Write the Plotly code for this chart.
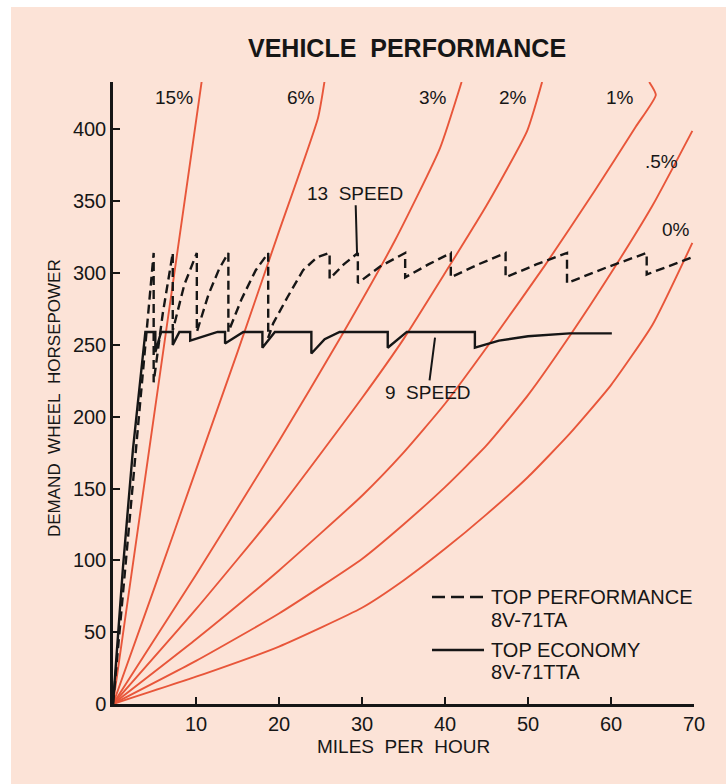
import plotly.graph_objects as go

# ---------------- data ----------------
# grade-resistance curves: demand wheel horsepower vs mph
g15_mph = [0, 5.0, 10.7]
g15_hp = [0, 203, 434]
g6_mph = [0, 5, 10, 15, 20, 24.7, 25.5]
g6_hp = [0, 81, 163, 245, 329, 408, 434]
g3_mph = [0, 10, 20, 27.5, 34, 39.4, 42.0]
g3_hp = [0, 90, 183, 256, 323, 387, 433]
g2_mph = [0, 10, 20, 30, 35, 40, 45, 49.9, 51.7]
g2_hp = [0, 66, 136, 213, 254, 300, 347, 399, 433]
g1_mph = [0, 10, 20, 30, 35, 40, 46, 52, 58, 63, 65.4, 64.6]
g1_hp = [0, 45, 93, 145, 175, 209, 256, 305, 357, 402, 424, 433]
g05_mph = [0, 10, 20, 30, 35, 40, 45, 50, 55, 60, 65, 69.8]
g05_hp = [0, 30, 63, 101, 125, 151, 180, 215, 256, 300, 347, 399]
g0_mph = [0, 10, 20, 30, 35, 40, 45, 50, 55, 60, 65, 69.8]
g0_hp = [0, 19, 40, 67, 86, 108, 132, 158, 188, 222, 264, 321]

grade_labels = ["15%", "6%", "3%", "2%", "1%", ".5%", "0%"]
label_mph = [7.35, 22.7, 38.6, 48.2, 61.1, 66.1, 67.8]
label_hp = [422, 422, 422, 422, 422, 378, 330]

# 13 speed, top performance 8V-71TA (dashed)
perf_mph = [0, 3.0, 4.9, 4.9, 6.0, 7.2, 7.2, 8.6, 10.1, 10.1, 11.5, 12.8, 13.9,
            13.9, 15.5, 17.2, 18.7, 18.7, 19.3, 21.0, 22.9, 24.6, 26.1, 26.1,
            27.8, 29.5, 29.5, 32.3, 35.2, 35.2, 38.0, 40.7, 40.7, 44.0, 47.3,
            47.3, 51.0, 54.7, 54.7, 59.5, 64.3, 64.3, 67.0, 69.8]
perf_hp = [0, 195, 314, 224, 272, 314, 260, 292, 314, 259, 285, 303, 314,
           259, 282, 302, 314, 255, 265, 283, 302, 311, 314, 296,
           306, 314, 293, 305, 314, 297, 306, 314, 297, 306, 314,
           297, 306, 314, 293, 304, 314, 299, 305, 311]

# 9 speed, top economy 8V-71TTA (solid)
econ_mph = [0, 1.2, 2.4, 3.9, 5.1, 5.1, 5.8, 7.2, 7.2, 8.0, 9.3, 9.3, 12.6,
            13.5, 13.5, 15.7, 18.0, 18.0, 19.5, 23.9, 23.9, 25.5, 27.3, 33.1,
            33.1, 35.4, 43.6, 43.6, 46.5, 50.0, 55.0, 60.1]
econ_hp = [0, 95, 177, 259, 259, 245, 259, 259, 250, 259, 259, 253, 259,
           259, 251, 259, 259, 248, 259, 259, 244, 254, 259, 259,
           248, 259, 259, 248, 253, 256, 258, 258]

legend_lines = ["TOP PERFORMANCE", "8V-71TA", "TOP ECONOMY", "8V-71TTA"]

x_ticks = [10, 20, 30, 40, 50, 60, 70]
y_ticks = [0, 50, 100, 150, 200, 250, 300, 350, 400]

# ---------------- styling ----------------
RED = "#E8563A"
INK = "#161616"
BG = "#FCE3D7"
FONT = "Liberation Sans, Arial, Helvetica, sans-serif"

fig = go.Figure()

for mx, hy in [(g15_mph, g15_hp), (g6_mph, g6_hp), (g3_mph, g3_hp),
               (g2_mph, g2_hp), (g1_mph, g1_hp), (g05_mph, g05_hp),
               (g0_mph, g0_hp)]:
    fig.add_trace(go.Scatter(x=mx, y=hy, mode="lines",
                             line=dict(color=RED, width=1.9, shape="spline",
                                       smoothing=0.5),
                             showlegend=False, hoverinfo="skip"))

fig.add_trace(go.Scatter(x=perf_mph, y=perf_hp, mode="lines",
                         name="TOP PERFORMANCE 8V-71TA", showlegend=False,
                         line=dict(color=INK, width=2.4, dash="9px,5px")))
fig.add_trace(go.Scatter(x=econ_mph, y=econ_hp, mode="lines",
                         name="TOP ECONOMY 8V-71TTA", showlegend=False,
                         line=dict(color=INK, width=2.4)))


def px_x(p):
    return (p - 113) / 581.0


def px_y(p):
    return (704 - p) / 622.0


annotations = []
for t, xv, yv in zip(grade_labels, label_mph, label_hp):
    annotations.append(dict(x=xv, y=yv, xref="x", yref="y", text=t,
                            showarrow=False, font=dict(size=19, color=INK)))

annotations.append(dict(x=29.4, y=314, xref="x", yref="y",
                        ax=29.2, ay=355.5, axref="x", ayref="y",
                        text="13\u00a0\u00a0SPEED", showarrow=True, arrowhead=0,
                        arrowwidth=2, arrowcolor=INK,
                        font=dict(size=19, color=INK)))
annotations.append(dict(x=38.8, y=255, xref="x", yref="y",
                        ax=37.95, ay=217, axref="x", ayref="y",
                        text="9\u00a0\u00a0SPEED", showarrow=True, arrowhead=0,
                        arrowwidth=2, arrowcolor=INK,
                        font=dict(size=19, color=INK)))

annotations.append(dict(x=px_x(407), y=px_y(48), xref="paper", yref="paper",
                        xanchor="center", yanchor="middle",
                        text="<b>VEHICLE\u00a0\u00a0PERFORMANCE</b>",
                        showarrow=False, font=dict(size=25, color=INK)))
annotations.append(dict(x=px_x(54), y=px_y(398), xref="paper", yref="paper",
                        xanchor="center", yanchor="middle",
                        text="DEMAND\u00a0\u00a0WHEEL\u00a0\u00a0HORSEPOWER",
                        textangle=-90, showarrow=False,
                        font=dict(size=17, color=INK)))
annotations.append(dict(x=px_x(403), y=px_y(746), xref="paper", yref="paper",
                        xanchor="center", yanchor="middle",
                        text="MILES\u00a0\u00a0PER\u00a0\u00a0HOUR",
                        showarrow=False, font=dict(size=19, color=INK)))

# legend (drawn by hand to match the original key)
for t, ypx in zip(legend_lines, [597, 620, 650, 672]):
    annotations.append(dict(x=px_x(489), y=px_y(ypx), xref="paper",
                            yref="paper", xanchor="left", yanchor="middle",
                            text=t, showarrow=False,
                            font=dict(size=20, color=INK)))

shapes = [
    dict(type="rect", xref="paper", yref="paper", x0=-0.2, x1=px_x(11),
         y0=-0.14, y1=1.15, fillcolor="white", line=dict(width=0),
         layer="below"),
    dict(type="rect", xref="paper", yref="paper", x0=-0.2, x1=1.06,
         y0=px_y(7), y1=1.15, fillcolor="white", line=dict(width=0),
         layer="below"),
    dict(type="line", xref="paper", yref="paper", x0=px_x(432), x1=px_x(484),
         y0=px_y(597), y1=px_y(597), line=dict(color=INK, width=2.4,
                                                 dash="13px,6px")),
    dict(type="line", xref="paper", yref="paper", x0=px_x(432), x1=px_x(484),
         y0=px_y(650), y1=px_y(650), line=dict(color=INK, width=2.4)),
]

fig.update_layout(
    width=726, height=784, autosize=False,
    margin=dict(l=113, r=32, t=82, b=80, pad=0),
    paper_bgcolor=BG, plot_bgcolor=BG,
    font=dict(family=FONT, size=19, color=INK),
    annotations=annotations, shapes=shapes,
    showlegend=False,
)
fig.update_xaxes(range=[0, 70], tickvals=x_ticks, showgrid=False,
                 zeroline=False, showline=True, linecolor=INK, linewidth=2.5,
                 ticks="inside", ticklen=7, tickwidth=2, tickcolor=INK,
                 tickfont=dict(size=20, color=INK))
fig.update_yaxes(range=[0, 433], tickvals=y_ticks, showgrid=False,
                 zeroline=False, showline=True, linecolor=INK, linewidth=2.5,
                 ticks="inside", ticklen=7, tickwidth=2, tickcolor=INK,
                 tickfont=dict(size=20, color=INK))

fig.write_html("out.html")
